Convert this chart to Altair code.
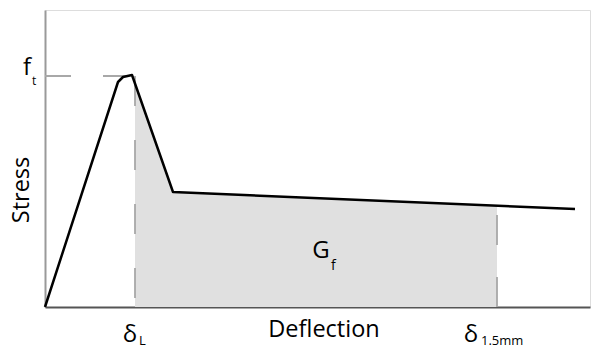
import altair as alt
import numpy as np
import pandas as pd

# ---- data (arbitrary units) ----
deflection = [0, 73, 78, 87, 128, 530]
stress = [0, 225, 230, 232, 115, 98]
delta_L = 90
delta_15 = 452
f_t = 231

x_title = "Deflection"
y_title = "Stress"

FONT = "Open Sans"

curve = pd.DataFrame({"x": deflection, "y": stress})
xs = [delta_L] + [d for d in deflection if delta_L < d < delta_15] + [delta_15]
area_df = pd.DataFrame({"x": xs, "y": np.interp(xs, deflection, stress)})

xsc = alt.Scale(domain=[0, 545], nice=False, zero=True)
ysc = alt.Scale(domain=[0, 297], nice=False, zero=True)

x_ax = alt.Axis(labels=False, ticks=False, title=None, grid=False,
                domainColor="#555555", domainWidth=2)
y_ax = alt.Axis(labels=False, ticks=False, title=None, grid=False,
                domainColor="#9a9a9a", domainWidth=2)

X = alt.X("x:Q", scale=xsc, axis=x_ax)
Y = alt.Y("y:Q", scale=ysc, axis=y_ax)

area = alt.Chart(area_df).mark_area(color="#e0e0e0", opacity=1).encode(x=X, y=Y)

line = alt.Chart(curve).mark_line(color="black", strokeWidth=2.5,
                                  strokeJoin="round").encode(x=X, y=Y)

rule_df = pd.DataFrame({"x": [0], "x2": [87], "y": [f_t]})
hrule = alt.Chart(rule_df).mark_rule(color="#a8a8a8", strokeWidth=1.8,
                                     strokeDash=[26, 32]).encode(
    x=X, x2="x2:Q", y=Y)

vL_df = pd.DataFrame({"x": [delta_L], "y": [f_t], "y2": [0]})
vL = alt.Chart(vL_df).mark_rule(color="#a8a8a8", strokeWidth=1.8,
                                strokeDash=[30, 34]).encode(x=X, y=Y, y2="y2:Q")

v15_df = pd.DataFrame({"x": [delta_15], "y": [0],
                       "y2": [float(np.interp(delta_15, deflection, stress))]})
v15 = alt.Chart(v15_df).mark_rule(color="#a8a8a8", strokeWidth=1.8,
                                  strokeDash=[30, 32]).encode(x=X, y=Y, y2="y2:Q")


def label(text, x, y, size, dx=0, dy=0, align="center", angle=0, baseline="alphabetic"):
    df = pd.DataFrame({"x": [x], "y": [y], "t": [text]})
    return alt.Chart(df).mark_text(font=FONT, fontSize=size, color="black",
                                   dx=dx, dy=dy, align=align, angle=angle,
                                   baseline=baseline).encode(x=X, y=Y, text="t:N")


texts = [
    label("f", 0, f_t, 24, dx=-18, dy=-1),
    label("t", 0, f_t, 12, dx=-13, dy=9, align="left"),
    label("δ", delta_L, 0, 24, dx=-5, dy=35),
    label("L", delta_L, 0, 13, dx=4, dy=38, align="left"),
    label("δ", delta_15, 0, 24, dx=-26, dy=35),
    label("1.5mm", delta_15, 0, 13, dx=-16, dy=38, align="left"),
    label("G", 276, 49, 24),
    label("f", 276, 49, 14, dx=10, dy=12, align="left"),
    label(x_title, 279, 0, 23.5, dy=30),
    label(y_title, -23, 117, 23.5, angle=270, baseline="middle"),
]

chart = alt.layer(area, v15, vL, hrule, line, *texts).properties(
    width=545, height=297,
    padding={"left": 45, "top": 10, "right": 5, "bottom": 42},
    autosize="none",
).configure_view(stroke=None).configure(background="white")

chart.save("out.html", embed_options={"renderer": "svg", "actions": False})
